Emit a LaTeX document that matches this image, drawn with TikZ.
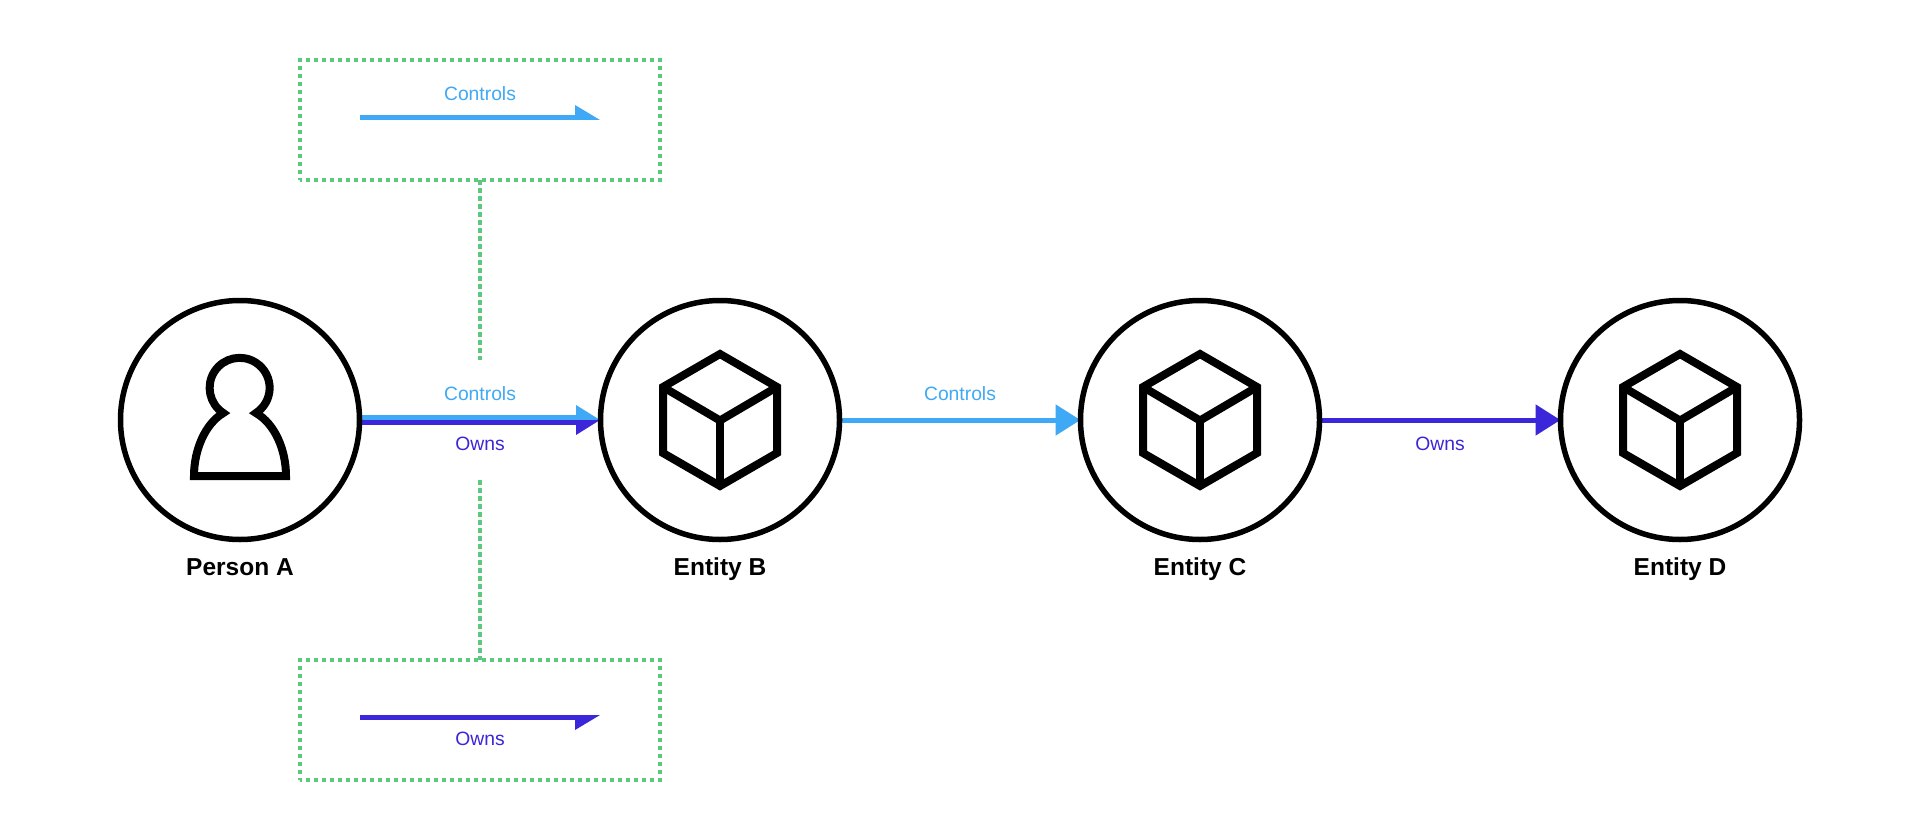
\documentclass[tikz,border=0pt]{standalone}
\usepackage{fontspec}
\setmainfont{Liberation Sans}
\usetikzlibrary{arrows.meta,backgrounds}
\definecolor{ctrlblue}{HTML}{3FA9F5}
\definecolor{ownpurple}{HTML}{3B26D9}
\definecolor{dotgreen}{HTML}{5CC97C}
\tikzset{
  x=1pt,y=-1pt,
  entity/.style={circle,draw=black,line width=5.5pt,minimum size=239pt,inner sep=0pt,outer sep=2.5pt},
  dotbox/.style={draw=dotgreen,line width=4.5pt,dash pattern=on 4.5pt off 3.5pt,dash phase=2.25pt,minimum width=360pt,minimum height=120pt,inner sep=0pt,outer sep=0pt},
  dotlink/.style={draw=dotgreen,line width=4.5pt,dash pattern=on 4.5pt off 3.5pt},
  ctrlline/.style={draw=ctrlblue,line width=5pt},
  ownline/.style={draw=ownpurple,line width=5pt},
  ctrlarrow/.style={ctrlline,shorten >=-2.5pt,-{Triangle[length=25pt,width=30pt,fill=ctrlblue]}},
  ownarrow/.style={ownline,shorten >=-2.5pt,-{Triangle[length=25pt,width=30pt,fill=ownpurple]}},
  iconline/.style={draw=black,line width=8pt,line join=miter,miter limit=10},
  ctrltext/.style={text=ctrlblue,font=\fontsize{19.3pt}{22pt}\selectfont,anchor=base,inner sep=0pt},
  owntext/.style={text=ownpurple,font=\fontsize{19.3pt}{22pt}\selectfont,anchor=base,inner sep=0pt},
  nametext/.style={text=black,font=\fontsize{24.5pt}{28pt}\selectfont\bfseries,anchor=base,inner sep=0pt},
  cubeicon/.pic={
    \draw[iconline] (0,-66) -- (57,-33) -- (57,33) -- (0,66) -- (-57,33) -- (-57,-33) -- cycle;
    \draw[iconline] (-57,-33) -- (0,0.5) -- (57,-33);
    \draw[iconline] (0,0.5) -- (0,66);
  },
}
\begin{document}
\begin{tikzpicture}
\useasboundingbox (0,0) rectangle (1920,840);
% entities
\node[entity] (a) at (240,420) {};
\node[entity] (b) at (720,420) {};
\node[entity] (c) at (1200,420) {};
\node[entity] (d) at (1680,420) {};
% person icon
\draw[iconline] (223.3,413) arc[start angle=237,end angle=-57,radius=30pt]
  .. controls (275,424) and (286,450) .. (286,476)
  -- (194,476)
  .. controls (194,450) and (205,424) .. cycle;
% cubes
\pic at (b) {cubeicon};
\pic at (c) {cubeicon};
\pic at (d) {cubeicon};
\begin{scope}[on background layer]
\fill[white] (0,0) rectangle (1920,840);
% A to B: two half arrows
\draw[ctrlline] ([yshift=2.5pt]a.east) -- ([xshift=-22pt,yshift=2.5pt]b.west);
\fill[ctrlblue] ([xshift=-22pt,yshift=15pt]b.west) -- ([xshift=2pt]b.west) -- ([xshift=-22pt]b.west) -- cycle;
\draw[ownline] ([yshift=-2.5pt]a.east) -- ([xshift=-22pt,yshift=-2.5pt]b.west);
\fill[ownpurple] ([xshift=-22pt,yshift=-15pt]b.west) -- ([xshift=2pt]b.west) -- ([xshift=-22pt]b.west) -- cycle;
% B to C, C to D
\draw[ctrlarrow] (b.east) -- (c.west);
\draw[ownarrow] (c.east) -- (d.west);
\end{scope}
% legend boxes
\node[dotbox] (top) at (480,120) {};
\node[dotbox] (bot) at (480,720) {};
\coordinate (topend) at (480,360);
\coordinate (botend) at (480,480);
\draw[dotlink] (top.south) -- (topend);
\draw[dotlink] (botend) -- (bot.north);
% legend arrows
\coordinate (ls1) at (360,117.5);
\coordinate (le1) at (575,117.5);
\draw[ctrlline] (ls1) -- (le1);
\fill[ctrlblue] (575,105) -- (600,120) -- (575,120) -- cycle;
\coordinate (ls2) at (360,717.5);
\coordinate (le2) at (575,717.5);
\draw[ownline] (ls2) -- (le2);
\fill[ownpurple] (575,715) -- (600,715) -- (575,730) -- cycle;
% labels
\node[ctrltext] (lc0) at (480,100.5) {Controls};
\node[owntext] (lo0) at (480,745.5) {Owns};
\node[ctrltext] (lc1) at (480,400.5) {Controls};
\node[owntext] (lo1) at (480,450.5) {Owns};
\node[ctrltext] (lc2) at (960,400.5) {Controls};
\node[owntext] (lo2) at (1440,450.5) {Owns};
\node[nametext] (na) at (240,575) {Person A};
\node[nametext] (nb) at (720,575) {Entity B};
\node[nametext] (nc) at (1200,575) {Entity C};
\node[nametext] (nd) at (1680,575) {Entity D};
\end{tikzpicture}
\end{document}
